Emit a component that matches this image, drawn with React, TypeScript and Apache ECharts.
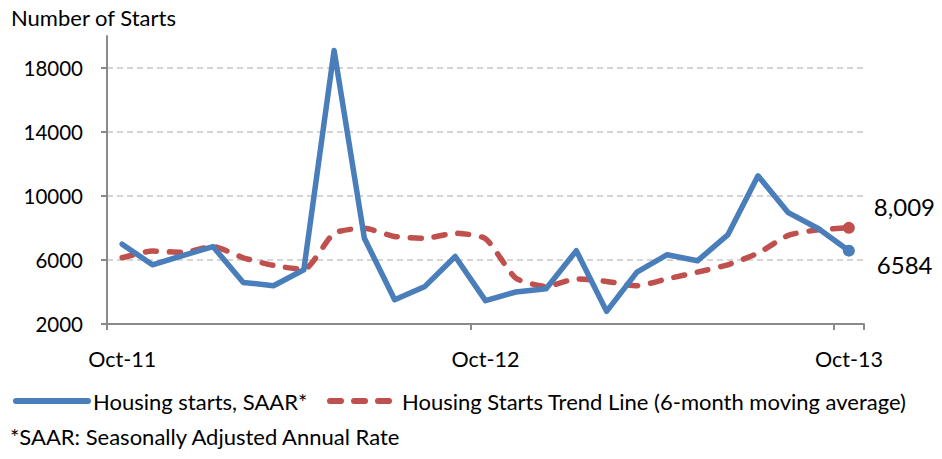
import React, { useEffect, useRef } from "react";
import * as echarts from "echarts";

const months = [
  "Oct-11", "Nov-11", "Dec-11", "Jan-12", "Feb-12", "Mar-12", "Apr-12", "May-12", "Jun-12",
  "Jul-12", "Aug-12", "Sep-12", "Oct-12", "Nov-12", "Dec-12", "Jan-13", "Feb-13", "Mar-13",
  "Apr-13", "May-13", "Jun-13", "Jul-13", "Aug-13", "Sep-13", "Oct-13",
];

const housingStarts = [
  6990, 5700, 6280, 6840, 4600, 4390, 5390, 19100, 7360, 3520, 4350, 6220, 3460,
  4000, 4200, 6580, 2790, 5240, 6330, 5950, 7570, 11260, 8960, 7950, 6584,
];

const trendLine = [
  6140, 6560, 6480, 6840, 6140, 5660, 5410, 7670, 7980, 7470, 7360, 7670, 7330,
  4870, 4350, 4820, 4660, 4390, 4820, 5240, 5700, 6430, 7540, 7890, 8009,
];

const yTicks = [2000, 6000, 10000, 14000, 18000];

const seriesNames = [
  "Housing starts, SAAR*",
  "Housing Starts Trend Line (6-month moving average)",
];

const FONT = "Lato, 'Liberation Sans', sans-serif";

export default function App() {
  const ref = useRef<HTMLDivElement>(null);

  useEffect(() => {
    if (!ref.current) return;
    const chart = echarts.init(ref.current, undefined, { renderer: "svg" });
    const last = months.length - 1;
    const fmt = (v: number) => v.toLocaleString("en-US");

    const blueData = housingStarts.map((v, i) =>
      i === last
        ? {
            value: v,
            symbol: "circle",
            symbolSize: 12,
            label: {
              show: true,
              position: "right",
              distance: 22,
              offset: [0, 14],
              formatter: String(v),
              fontSize: 24,
              color: "#000",
              fontFamily: FONT,
            },
          }
        : v
    );
    const redData = trendLine.map((v, i) =>
      i === last
        ? {
            value: v,
            symbol: "circle",
            symbolSize: 12,
            label: {
              show: true,
              position: "right",
              distance: 19,
              offset: [0, -21],
              formatter: fmt(v),
              fontSize: 24,
              color: "#000",
              fontFamily: FONT,
            },
          }
        : v
    );

    const legendCommon = {
      top: 385,
      itemHeight: 22,
      itemStyle: { opacity: 0 },
      textStyle: { fontSize: 22, color: "#000", fontFamily: FONT },
    };

    chart.setOption({
      animation: false,
      backgroundColor: "#fff",
      textStyle: { fontFamily: FONT },
      title: {
        text: "Number of Starts",
        left: 6,
        top: 1,
        textStyle: { fontSize: 22, fontWeight: "normal", color: "#000", fontFamily: FONT },
      },
      legend: [
        {
          ...legendCommon,
          data: [seriesNames[0]],
          left: 8,
          itemWidth: 72,
          lineStyle: { width: 6, cap: "round" },
        },
        {
          ...legendCommon,
          data: [seriesNames[1]],
          left: 322,
          itemWidth: 65,
          lineStyle: { width: 6, cap: "round", type: [11, 13] },
          textStyle: { ...legendCommon.textStyle, padding: [0, 0, 0, 2] },
        },
      ],
      graphic: [
        {
          type: "text",
          left: 10,
          top: 425,
          style: {
            text: "*SAAR: Seasonally Adjusted Annual Rate",
            fontSize: 22,
            fill: "#000",
            fontFamily: FONT,
          },
        },
      ],
      grid: { left: 107, right: 78, top: 36, bottom: 135 },
      xAxis: {
        type: "category",
        data: months,
        boundaryGap: true,
        axisLine: { show: true, lineStyle: { color: "#8a8a8a", width: 2 } },
        axisTick: { show: true, interval: 11, length: 6, lineStyle: { color: "#8a8a8a", width: 2 } },
        axisLabel: { interval: 11, margin: 24, fontSize: 21.5, color: "#000", fontFamily: FONT },
        splitLine: { show: false },
      },
      yAxis: {
        type: "value",
        min: yTicks[0],
        max: 20000,
        interval: 4000,
        axisLine: { show: true, lineStyle: { color: "#8a8a8a", width: 2 } },
        axisTick: { show: true, length: 6, lineStyle: { color: "#8a8a8a", width: 2 } },
        axisLabel: {
          margin: 24,
          fontSize: 20.5,
          color: "#000",
          fontFamily: FONT,
          showMaxLabel: false,
          formatter: (v: number) => (yTicks.includes(v) ? String(v) : ""),
        },
        splitLine: {
          show: true,
          showMinLine: false,
          showMaxLine: false,
          lineStyle: { color: "#c8c8c8", width: 1.5, type: [6, 4] },
        },
      },
      series: [
        {
          name: seriesNames[0],
          type: "line",
          data: blueData,
          symbol: "none",
          showSymbol: true,
          itemStyle: { color: "#4a7ebb" },
          lineStyle: { color: "#4a7ebb", width: 5.5, cap: "round", join: "round" },
          z: 3,
        },
        {
          name: seriesNames[1],
          type: "line",
          data: redData,
          symbol: "none",
          showSymbol: true,
          smooth: 0.2,
          itemStyle: { color: "#c0504d" },
          lineStyle: { color: "#c0504d", width: 5.5, type: [11, 13], cap: "round", join: "round" },
          z: 2,
        },
      ],
    });

    return () => chart.dispose();
  }, []);

  return <div ref={ref} style={{ width: 942, height: 459, position: "absolute", left: 0, top: 0 }} />;
}
